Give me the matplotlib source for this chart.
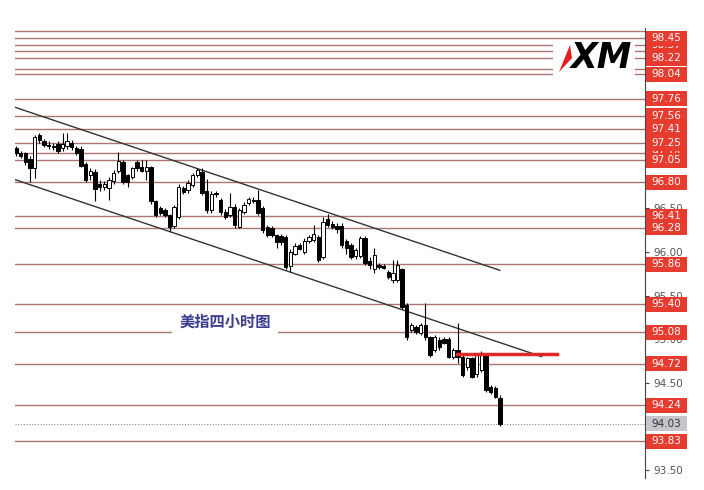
import numpy as np
import matplotlib.pyplot as plt
from matplotlib.patches import Rectangle, Polygon
import matplotlib.transforms as mtransforms

# 4-hour candles of the dollar index
opens = [97.19, 97.14, 97.13, 97.07, 96.96, 97.34, 97.27, 97.23, 97.22, 97.24,
         97.19, 97.22, 97.25, 97.19, 97.18, 97.01, 96.88, 96.92, 96.78, 96.74,
         96.73, 96.81, 96.93, 97.03, 96.88, 96.86, 97.03, 96.98, 96.93, 96.97,
         96.58, 96.50, 96.48, 96.42, 96.30, 96.40, 96.73, 96.71, 96.77, 96.88,
         96.92, 96.70, 96.48, 96.67, 96.60, 96.46, 96.42, 96.52, 96.29, 96.46,
         96.56, 96.60, 96.60, 96.50, 96.29, 96.27, 96.19, 96.18, 96.17, 95.84,
         95.98, 96.08, 96.00, 96.13, 96.14, 96.17, 95.94, 96.38, 96.32, 96.30,
         96.30, 96.13, 96.08, 95.95, 95.95, 96.16, 95.90, 95.80, 95.85, 95.84,
         95.77, 95.68, 95.68, 95.80, 95.39, 95.10, 95.14, 95.07, 95.16, 95.02,
         94.88, 94.99, 95.00, 95.00, 94.80, 94.88, 94.80, 94.68, 94.78, 94.60,
         94.65, 94.82, 94.45, 94.44, 94.33]
highs = [97.22, 97.16, 97.15, 97.10, 97.34, 97.37, 97.30, 97.27, 97.25, 97.27,
         97.36, 97.36, 97.28, 97.22, 97.21, 97.03, 96.96, 96.95, 96.82, 96.81,
         96.86, 96.94, 97.15, 97.06, 96.90, 96.98, 97.06, 97.05, 97.06, 96.99,
         96.60, 96.53, 96.50, 96.44, 96.54, 96.78, 96.76, 96.82, 96.91, 96.96,
         96.96, 96.84, 96.70, 96.70, 96.62, 96.49, 96.68, 96.55, 96.51, 96.57,
         96.63, 96.63, 96.71, 96.53, 96.31, 96.30, 96.21, 96.21, 96.20, 96.03,
         96.10, 96.10, 96.16, 96.20, 96.31, 96.20, 96.40, 96.44, 96.35, 96.33,
         96.33, 96.15, 96.10, 96.05, 96.18, 96.18, 95.94, 96.05, 95.87, 95.86,
         95.79, 95.91, 95.91, 95.82, 95.41, 95.19, 95.16, 95.18, 95.42, 95.04,
         95.05, 95.02, 95.02, 95.02, 94.90, 95.19, 94.83, 94.80, 94.80, 94.84,
         94.86, 94.84, 94.47, 94.46, 94.36]
lows = [97.10, 97.08, 97.00, 96.80, 96.85, 97.25, 97.20, 97.18, 97.17, 97.14,
        97.16, 97.18, 97.17, 97.11, 96.97, 96.80, 96.83, 96.58, 96.70, 96.71,
        96.60, 96.78, 96.91, 96.78, 96.74, 96.84, 96.93, 96.92, 96.82, 96.55,
        96.40, 96.42, 96.40, 96.24, 96.27, 96.38, 96.66, 96.68, 96.75, 96.86,
        96.65, 96.45, 96.45, 96.63, 96.43, 96.38, 96.40, 96.28, 96.27, 96.44,
        96.54, 96.56, 96.43, 96.22, 96.17, 96.17, 96.05, 96.08, 95.80, 95.77,
        95.96, 96.02, 95.98, 96.10, 96.12, 95.88, 95.92, 96.29, 96.26, 96.22,
        96.05, 95.98, 95.92, 95.92, 95.93, 95.85, 95.80, 95.76, 95.80, 95.80,
        95.69, 95.65, 95.66, 95.35, 94.99, 95.08, 95.06, 95.05, 94.99, 94.80,
        94.85, 94.88, 94.94, 94.78, 94.77, 94.73, 94.57, 94.65, 94.55, 94.57,
        94.62, 94.40, 94.37, 94.32, 94.01]
closes = [97.13, 97.10, 97.03, 96.96, 97.32, 97.28, 97.23, 97.22, 97.20, 97.16,
          97.24, 97.27, 97.20, 97.14, 96.99, 96.83, 96.93, 96.72, 96.74, 96.78,
          96.83, 96.91, 97.04, 96.80, 96.80, 96.96, 96.96, 96.93, 96.97, 96.58,
          96.43, 96.45, 96.43, 96.29, 96.52, 96.75, 96.69, 96.79, 96.88, 96.94,
          96.68, 96.48, 96.67, 96.66, 96.46, 96.40, 96.52, 96.31, 96.48, 96.54,
          96.61, 96.59, 96.45, 96.25, 96.20, 96.20, 96.12, 96.12, 95.83, 96.00,
          96.07, 96.04, 96.13, 96.17, 96.21, 95.91, 96.34, 96.31, 96.29, 96.26,
          96.08, 96.05, 95.94, 96.02, 96.16, 95.87, 95.85, 95.96, 95.83, 95.82,
          95.71, 95.76, 95.85, 95.37, 95.03, 95.16, 95.08, 95.16, 95.03, 94.82,
          95.02, 94.91, 94.96, 94.80, 94.88, 94.80, 94.59, 94.78, 94.57, 94.82,
          94.84, 94.42, 94.40, 94.34, 94.03]

# horizontal support / resistance levels
levels = [98.53, 98.45, 98.37, 98.30, 98.22, 98.10, 98.04, 97.76, 97.56, 97.41,
          97.25, 97.14, 97.05, 96.80, 96.41, 96.28, 95.86, 95.40, 95.08, 94.72,
          94.24, 93.83]
hidden_labels = ['98.37', '97.14']
level_labels = ['98.45', '98.22', '98.04', '97.76', '97.56', '97.41', '97.25',
                '97.05', '96.80', '96.41', '96.28', '95.86', '95.40', '95.08',
                '94.72', '94.24', '93.83']
last_price = 94.03
red_level = 94.83
red_span = (94.8, 116.2)

# channel lines (bar index, price)
upper_channel = ([-0.21, 104.0], [97.66, 95.79])
lower_channel = ([-0.21, 113.0], [96.83, 94.80])

# axis ticks that are not hidden behind the price boxes
y_ticks = [93.5, 94.5, 95.0, 95.5, 96.0, 96.5]

fig = plt.figure(figsize=(7.04, 4.90), dpi=100)
ax = fig.add_axes([15 / 704, 12 / 490, 630 / 704, 450 / 490])

x = np.arange(len(opens))
o = np.array(opens)
c = np.array(closes)
up = c >= o

for lv in levels:
    ax.axhline(lv, color='#ad7474', lw=1.0, zorder=1)
ax.axhline(last_price, color='#888888', lw=0.8, ls=(0, (1, 1.5)), zorder=1)

ax.plot(*upper_channel, color='#333333', lw=1.0, zorder=2)
ax.plot(*lower_channel, color='#333333', lw=1.0, zorder=2)

ax.vlines(x, lows, highs, color='black', lw=0.8, zorder=3)
body_bottom = np.minimum(o, c)
body_height = np.maximum(np.abs(c - o), 0.012)
ax.bar(x[up], body_height[up], bottom=body_bottom[up], width=0.72,
       color='white', edgecolor='black', lw=0.7, zorder=4)
ax.bar(x[~up], body_height[~up], bottom=body_bottom[~up], width=0.72,
       color='black', edgecolor='black', lw=0.7, zorder=4)

ax.plot(red_span, [red_level, red_level], color='#e02828', lw=2.5, zorder=5)

ax.text(44.9, 95.197, '美指四小时图', color='#3b3b8f', fontsize=11,
        fontweight='bold', family=['Noto Sans CJK SC', 'DejaVu Sans'],
        ha='center', va='center', zorder=6,
        bbox=dict(facecolor='white', edgecolor='none', pad=5))

ax.set_xlim(-0.21, 135.2)
ax.set_ylim(93.408, 98.569)
ax.set_xticks([])
ax.yaxis.tick_right()
ax.set_yticks(y_ticks)
ax.set_yticklabels(['%.2f' % v for v in y_ticks])
ax.tick_params(axis='y', length=3, width=0.8, color='#444444',
               labelcolor='#555555', labelsize=7.5, pad=3)
for side in ['left', 'top', 'bottom']:
    ax.spines[side].set_visible(False)
ax.spines['right'].set_color('#444444')

# price labels on the right axis
trans = mtransforms.blended_transform_factory(ax.transAxes, ax.transData)
box_h = 15 / 87.2
box_x0 = 1.0016
box_w = 41 / 630


def price_box(label, value, face, txt, z):
    ax.add_patch(Rectangle((box_x0, value - box_h / 2), box_w, box_h,
                           transform=trans, facecolor=face, edgecolor='none',
                           clip_on=False, zorder=z))
    ax.text(box_x0 + box_w / 2, value, label, transform=trans, color=txt,
            fontsize=7.5, ha='center', va='center', clip_on=False, zorder=z + 0.5)


for lab in hidden_labels:
    price_box(lab, float(lab), '#e63b2e', 'white', 8)
for lab in level_labels:
    price_box(lab, float(lab), '#e63b2e', 'white', 10)
price_box('%.2f' % last_price, last_price, '#c4c6cc', '#333333', 10)

# XM logo
fig.add_artist(Rectangle((553 / 704, 1 - 78 / 490), 82 / 704, 38 / 490,
                         transform=fig.transFigure, facecolor='white',
                         edgecolor='none', zorder=20))
fig.add_artist(Polygon([(559 / 704, 1 - 72 / 490), (570 / 704, 1 - 45 / 490),
                        (572 / 704, 1 - 58 / 490)],
                       transform=fig.transFigure, facecolor='#e02020',
                       edgecolor='none', zorder=21))
fig.text(601 / 704, 1 - 58 / 490, 'XM', fontsize=25, fontweight='heavy',
         style='italic', color='black', ha='center', va='center', zorder=22)

fig.savefig('out.png', dpi=100)
